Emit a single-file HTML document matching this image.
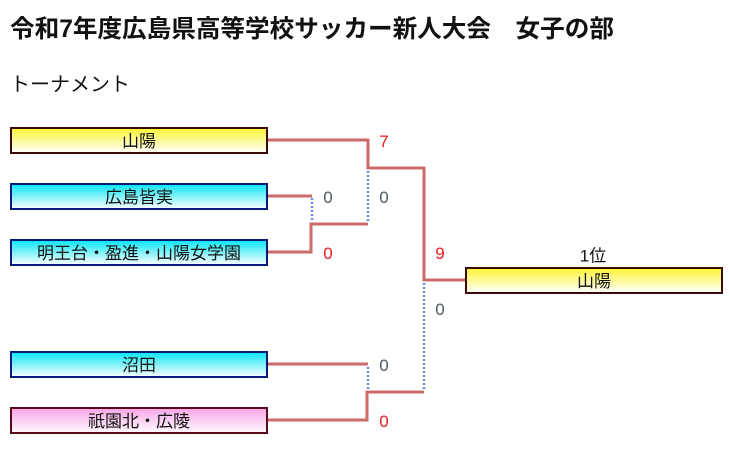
<!DOCTYPE html>
<html><head><meta charset="utf-8"><style>
body{margin:0;width:729px;height:461px;background:#fff;font-family:"Liberation Sans","Noto Sans CJK JP",sans-serif;position:relative;overflow:hidden}
.t{position:absolute;white-space:nowrap}
.b{position:absolute;width:254px;height:23px;text-align:center;line-height:25px;font-size:17px;color:#111}
.y{background:linear-gradient(#fbf53a,#fffff8);border:2px solid #3a0a0a}
.c{background:linear-gradient(#10e6f2,#f4ffff);border:2px solid #0a1a7a}
.p{background:linear-gradient(#f7a8e6,#fff8fd);border:2px solid #5a0a1a}
.s{position:absolute;font-size:17px;transform:translate(-50%,-50%)}
.r{color:#f01818}.g{color:#505a64}
</style></head><body>
<div class="t" style="left:10px;top:9px;font-size:24.6px;font-weight:bold;color:#111">令和7年度広島県高等学校サッカー新人大会　女子の部</div>
<div class="t" style="left:10px;top:68px;font-size:20px;color:#111">トーナメント</div>
<svg width="729" height="461" style="position:absolute;left:0;top:0">
<g fill="none" stroke="#cd6a6a" stroke-width="3">
<polyline points="267,140 368,140 368,168 424,168 424,280 465,280"/>
<polyline points="267,196 312,196"/>
<polyline points="267,252 311,252 311,224 368,224"/>
<polyline points="267,364 368,364"/>
<polyline points="267,420 367,420 367,392 424,392"/>
</g>
<g stroke="#6c8cf0" stroke-width="2.5" stroke-dasharray="2,2">
<line x1="312" y1="198" x2="312" y2="222"/>
<line x1="368" y1="171" x2="368" y2="222"/>
<line x1="368" y1="367" x2="368" y2="390"/>
<line x1="424" y1="283" x2="424" y2="390"/>
</g>
</svg>
<div class="b y" style="left:10px;top:127px">山陽</div>
<div class="b c" style="left:10px;top:183px">広島皆実</div>
<div class="b c" style="left:10px;top:239px">明王台・盈進・山陽女学園</div>
<div class="b c" style="left:10px;top:351px">沼田</div>
<div class="b p" style="left:10px;top:407px">祇園北・広陵</div>
<div class="b y" style="left:465px;top:267px">山陽</div>
<div class="s" style="left:593px;top:254px;color:#111">1位</div>
<div class="s r" style="left:384px;top:142px">7</div>
<div class="s g" style="left:328px;top:198px">0</div>
<div class="s g" style="left:384px;top:198px">0</div>
<div class="s r" style="left:328px;top:254px">0</div>
<div class="s r" style="left:440px;top:254px">9</div>
<div class="s g" style="left:440px;top:310px">0</div>
<div class="s g" style="left:384px;top:366px">0</div>
<div class="s r" style="left:384px;top:422px">0</div>
</body></html>
